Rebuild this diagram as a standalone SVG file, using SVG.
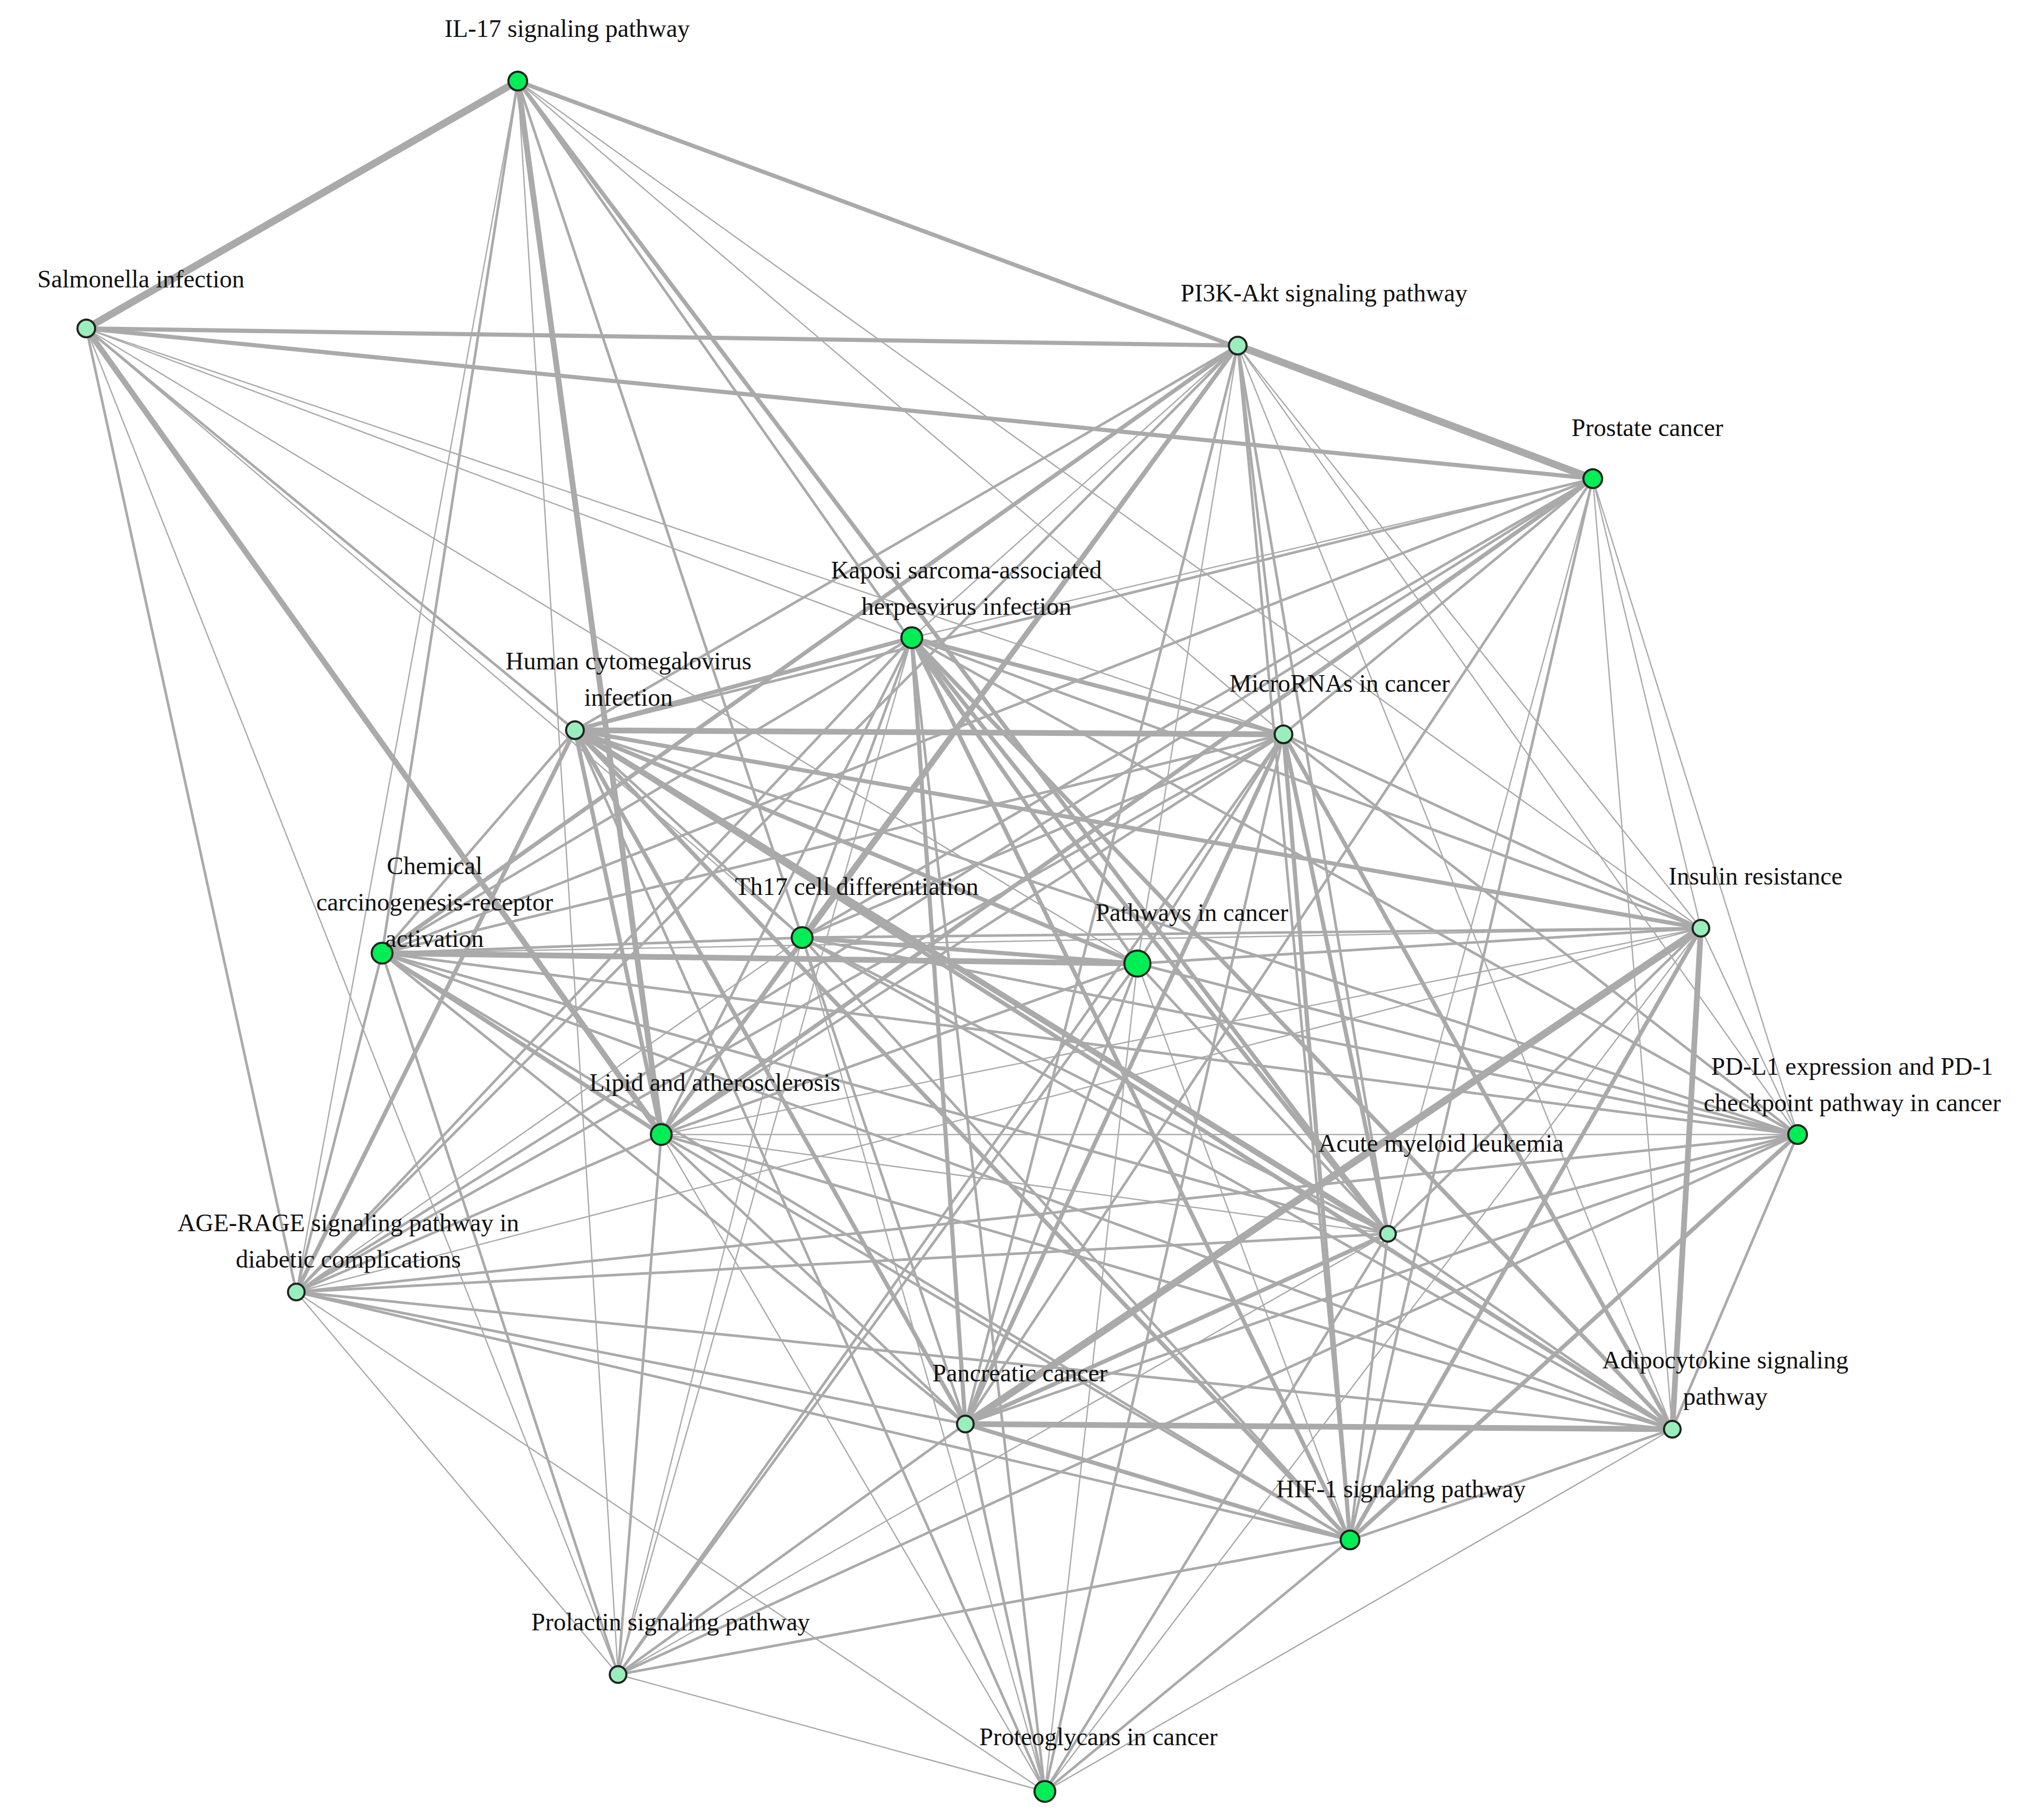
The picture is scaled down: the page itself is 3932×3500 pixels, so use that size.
<svg xmlns="http://www.w3.org/2000/svg" width="3932" height="3500" viewBox="0 0 3932 3500">
<style>
line{stroke:#aaaaaa;stroke-linecap:round}
.w1{stroke-width:2.5}.w2{stroke-width:5}.w3{stroke-width:8}.w4{stroke-width:11}.w5{stroke-width:14}
circle{stroke:#222;stroke-width:4}
.b{fill:#00ee55}.p{fill:#99eebb}
text{font-family:"Liberation Serif",serif;font-size:48px;fill:#111;text-anchor:middle}
</style>
<rect width="3932" height="3500" fill="#fff"/>
<g id="edges">
<line class="w5" x1="996" y1="156" x2="166" y2="632"/>
<line class="w3" x1="996" y1="156" x2="3064" y2="921"/>
<line class="w4" x1="996" y1="156" x2="1272" y2="2183"/>
<line class="w2" x1="996" y1="156" x2="735" y2="1834"/>
<line class="w1" x1="996" y1="156" x2="570" y2="2486"/>
<line class="w1" x1="996" y1="156" x2="1189" y2="3222"/>
<line class="w2" x1="996" y1="156" x2="1543" y2="1804"/>
<line class="w2" x1="996" y1="156" x2="2188" y2="1854"/>
<line class="w3" x1="996" y1="156" x2="2670" y2="2374"/>
<line class="w1" x1="996" y1="156" x2="2469" y2="1413"/>
<line class="w1" x1="996" y1="156" x2="3272" y2="1786"/>
<line class="w3" x1="166" y1="632" x2="2381" y2="665"/>
<line class="w3" x1="166" y1="632" x2="3064" y2="921"/>
<line class="w2" x1="166" y1="632" x2="1106" y2="1405"/>
<line class="w4" x1="166" y1="632" x2="1272" y2="2183"/>
<line class="w2" x1="166" y1="632" x2="570" y2="2486"/>
<line class="w1" x1="166" y1="632" x2="1189" y2="3222"/>
<line class="w1" x1="166" y1="632" x2="1543" y2="1804"/>
<line class="w1" x1="166" y1="632" x2="2188" y2="1854"/>
<line class="w1" x1="166" y1="632" x2="2469" y2="1413"/>
<line class="w1" x1="166" y1="632" x2="1754" y2="1227"/>
<line class="w5" x1="2381" y1="665" x2="3064" y2="921"/>
<line class="w1" x1="2381" y1="665" x2="1754" y2="1227"/>
<line class="w2" x1="2381" y1="665" x2="1106" y2="1405"/>
<line class="w3" x1="2381" y1="665" x2="735" y2="1834"/>
<line class="w3" x1="2381" y1="665" x2="1543" y2="1804"/>
<line class="w3" x1="2381" y1="665" x2="1272" y2="2183"/>
<line class="w2" x1="2381" y1="665" x2="2469" y2="1413"/>
<line class="w1" x1="2381" y1="665" x2="2188" y2="1854"/>
<line class="w2" x1="2381" y1="665" x2="2670" y2="2374"/>
<line class="w2" x1="2381" y1="665" x2="1857" y2="2740"/>
<line class="w1" x1="2381" y1="665" x2="3272" y2="1786"/>
<line class="w1" x1="2381" y1="665" x2="3217" y2="2750"/>
<line class="w2" x1="2381" y1="665" x2="2597" y2="2963"/>
<line class="w1" x1="2381" y1="665" x2="3458" y2="2183"/>
<line class="w2" x1="2381" y1="665" x2="570" y2="2486"/>
<line class="w1" x1="3064" y1="921" x2="1754" y2="1227"/>
<line class="w2" x1="3064" y1="921" x2="1106" y2="1405"/>
<line class="w2" x1="3064" y1="921" x2="1543" y2="1804"/>
<line class="w3" x1="3064" y1="921" x2="1272" y2="2183"/>
<line class="w2" x1="3064" y1="921" x2="2469" y2="1413"/>
<line class="w2" x1="3064" y1="921" x2="570" y2="2486"/>
<line class="w2" x1="3064" y1="921" x2="1857" y2="2740"/>
<line class="w1" x1="3064" y1="921" x2="2670" y2="2374"/>
<line class="w2" x1="3064" y1="921" x2="2597" y2="2963"/>
<line class="w1" x1="3064" y1="921" x2="3272" y2="1786"/>
<line class="w1" x1="3064" y1="921" x2="3458" y2="2183"/>
<line class="w1" x1="3064" y1="921" x2="3217" y2="2750"/>
<line class="w2" x1="3064" y1="921" x2="735" y2="1834"/>
<line class="w3" x1="1754" y1="1227" x2="1106" y2="1405"/>
<line class="w3" x1="1754" y1="1227" x2="2469" y2="1413"/>
<line class="w2" x1="1754" y1="1227" x2="735" y2="1834"/>
<line class="w2" x1="1754" y1="1227" x2="1543" y2="1804"/>
<line class="w2" x1="1754" y1="1227" x2="2188" y2="1854"/>
<line class="w2" x1="1754" y1="1227" x2="1272" y2="2183"/>
<line class="w2" x1="1754" y1="1227" x2="570" y2="2486"/>
<line class="w3" x1="1754" y1="1227" x2="1857" y2="2740"/>
<line class="w3" x1="1754" y1="1227" x2="2670" y2="2374"/>
<line class="w3" x1="1754" y1="1227" x2="2597" y2="2963"/>
<line class="w3" x1="1754" y1="1227" x2="3217" y2="2750"/>
<line class="w2" x1="1754" y1="1227" x2="3458" y2="2183"/>
<line class="w2" x1="1754" y1="1227" x2="3272" y2="1786"/>
<line class="w2" x1="1754" y1="1227" x2="2010" y2="3447"/>
<line class="w1" x1="1754" y1="1227" x2="1189" y2="3222"/>
<line class="w4" x1="1106" y1="1405" x2="2469" y2="1413"/>
<line class="w2" x1="1106" y1="1405" x2="735" y2="1834"/>
<line class="w2" x1="1106" y1="1405" x2="1543" y2="1804"/>
<line class="w3" x1="1106" y1="1405" x2="2188" y2="1854"/>
<line class="w3" x1="1106" y1="1405" x2="1272" y2="2183"/>
<line class="w3" x1="1106" y1="1405" x2="570" y2="2486"/>
<line class="w3" x1="1106" y1="1405" x2="1857" y2="2740"/>
<line class="w4" x1="1106" y1="1405" x2="2670" y2="2374"/>
<line class="w3" x1="1106" y1="1405" x2="3217" y2="2750"/>
<line class="w3" x1="1106" y1="1405" x2="2597" y2="2963"/>
<line class="w3" x1="1106" y1="1405" x2="3272" y2="1786"/>
<line class="w2" x1="1106" y1="1405" x2="3458" y2="2183"/>
<line class="w2" x1="1106" y1="1405" x2="2010" y2="3447"/>
<line class="w2" x1="2469" y1="1413" x2="735" y2="1834"/>
<line class="w2" x1="2469" y1="1413" x2="1543" y2="1804"/>
<line class="w2" x1="2469" y1="1413" x2="2188" y2="1854"/>
<line class="w2" x1="2469" y1="1413" x2="1272" y2="2183"/>
<line class="w2" x1="2469" y1="1413" x2="570" y2="2486"/>
<line class="w3" x1="2469" y1="1413" x2="1857" y2="2740"/>
<line class="w3" x1="2469" y1="1413" x2="2670" y2="2374"/>
<line class="w3" x1="2469" y1="1413" x2="2597" y2="2963"/>
<line class="w3" x1="2469" y1="1413" x2="3217" y2="2750"/>
<line class="w2" x1="2469" y1="1413" x2="3272" y2="1786"/>
<line class="w2" x1="2469" y1="1413" x2="3458" y2="2183"/>
<line class="w2" x1="2469" y1="1413" x2="2010" y2="3447"/>
<line class="w2" x1="2469" y1="1413" x2="1189" y2="3222"/>
<line class="w2" x1="735" y1="1834" x2="1543" y2="1804"/>
<line class="w4" x1="735" y1="1834" x2="2188" y2="1854"/>
<line class="w3" x1="735" y1="1834" x2="1272" y2="2183"/>
<line class="w2" x1="735" y1="1834" x2="570" y2="2486"/>
<line class="w2" x1="735" y1="1834" x2="2670" y2="2374"/>
<line class="w2" x1="735" y1="1834" x2="3458" y2="2183"/>
<line class="w2" x1="735" y1="1834" x2="1857" y2="2740"/>
<line class="w2" x1="735" y1="1834" x2="3217" y2="2750"/>
<line class="w1" x1="735" y1="1834" x2="3272" y2="1786"/>
<line class="w2" x1="735" y1="1834" x2="2597" y2="2963"/>
<line class="w2" x1="735" y1="1834" x2="1189" y2="3222"/>
<line class="w3" x1="1543" y1="1804" x2="2188" y2="1854"/>
<line class="w2" x1="1543" y1="1804" x2="3272" y2="1786"/>
<line class="w2" x1="1543" y1="1804" x2="3458" y2="2183"/>
<line class="w2" x1="1543" y1="1804" x2="2670" y2="2374"/>
<line class="w2" x1="1543" y1="1804" x2="1857" y2="2740"/>
<line class="w2" x1="1543" y1="1804" x2="3217" y2="2750"/>
<line class="w2" x1="1543" y1="1804" x2="2597" y2="2963"/>
<line class="w1" x1="1543" y1="1804" x2="2010" y2="3447"/>
<line class="w1" x1="1543" y1="1804" x2="570" y2="2486"/>
<line class="w1" x1="1543" y1="1804" x2="1272" y2="2183"/>
<line class="w1" x1="1543" y1="1804" x2="1189" y2="3222"/>
<line class="w2" x1="2188" y1="1854" x2="3272" y2="1786"/>
<line class="w2" x1="2188" y1="1854" x2="3458" y2="2183"/>
<line class="w2" x1="2188" y1="1854" x2="1272" y2="2183"/>
<line class="w2" x1="2188" y1="1854" x2="2670" y2="2374"/>
<line class="w2" x1="2188" y1="1854" x2="1189" y2="3222"/>
<line class="w1" x1="2188" y1="1854" x2="2010" y2="3447"/>
<line class="w1" x1="2188" y1="1854" x2="2597" y2="2963"/>
<line class="w2" x1="2188" y1="1854" x2="1857" y2="2740"/>
<line class="w5" x1="3272" y1="1786" x2="1857" y2="2740"/>
<line class="w3" x1="3272" y1="1786" x2="2597" y2="2963"/>
<line class="w4" x1="3272" y1="1786" x2="3217" y2="2750"/>
<line class="w1" x1="3272" y1="1786" x2="3458" y2="2183"/>
<line class="w2" x1="3272" y1="1786" x2="2670" y2="2374"/>
<line class="w1" x1="3272" y1="1786" x2="1272" y2="2183"/>
<line class="w1" x1="3272" y1="1786" x2="570" y2="2486"/>
<line class="w1" x1="3272" y1="1786" x2="2010" y2="3447"/>
<line class="w1" x1="3458" y1="2183" x2="1272" y2="2183"/>
<line class="w2" x1="3458" y1="2183" x2="2670" y2="2374"/>
<line class="w2" x1="3458" y1="2183" x2="1857" y2="2740"/>
<line class="w3" x1="3458" y1="2183" x2="2597" y2="2963"/>
<line class="w2" x1="3458" y1="2183" x2="3217" y2="2750"/>
<line class="w2" x1="3458" y1="2183" x2="570" y2="2486"/>
<line class="w2" x1="3458" y1="2183" x2="1189" y2="3222"/>
<line class="w2" x1="1272" y1="2183" x2="570" y2="2486"/>
<line class="w1" x1="1272" y1="2183" x2="2670" y2="2374"/>
<line class="w2" x1="1272" y1="2183" x2="1857" y2="2740"/>
<line class="w2" x1="1272" y1="2183" x2="3217" y2="2750"/>
<line class="w2" x1="1272" y1="2183" x2="1189" y2="3222"/>
<line class="w2" x1="1272" y1="2183" x2="2597" y2="2963"/>
<line class="w1" x1="1272" y1="2183" x2="2010" y2="3447"/>
<line class="w2" x1="2670" y1="2374" x2="570" y2="2486"/>
<line class="w3" x1="2670" y1="2374" x2="1857" y2="2740"/>
<line class="w2" x1="2670" y1="2374" x2="2597" y2="2963"/>
<line class="w2" x1="2670" y1="2374" x2="3217" y2="2750"/>
<line class="w2" x1="2670" y1="2374" x2="2010" y2="3447"/>
<line class="w1" x1="2670" y1="2374" x2="1189" y2="3222"/>
<line class="w2" x1="570" y1="2486" x2="1857" y2="2740"/>
<line class="w2" x1="570" y1="2486" x2="3217" y2="2750"/>
<line class="w2" x1="570" y1="2486" x2="2597" y2="2963"/>
<line class="w1" x1="570" y1="2486" x2="2010" y2="3447"/>
<line class="w1" x1="570" y1="2486" x2="1189" y2="3222"/>
<line class="w4" x1="1857" y1="2740" x2="3217" y2="2750"/>
<line class="w3" x1="1857" y1="2740" x2="2597" y2="2963"/>
<line class="w2" x1="1857" y1="2740" x2="2010" y2="3447"/>
<line class="w2" x1="1857" y1="2740" x2="1189" y2="3222"/>
<line class="w2" x1="3217" y1="2750" x2="2597" y2="2963"/>
<line class="w1" x1="3217" y1="2750" x2="2010" y2="3447"/>
<line class="w2" x1="2597" y1="2963" x2="2010" y2="3447"/>
<line class="w2" x1="2597" y1="2963" x2="1189" y2="3222"/>
<line class="w1" x1="1189" y1="3222" x2="2010" y2="3447"/>
</g>
<g id="n-il17"><circle class="b" cx="996" cy="156" r="18"/><text x="1091" y="71">IL-17 signaling pathway</text></g>
<g id="n-salm"><circle class="p" cx="166" cy="632" r="17"/><text x="271" y="553">Salmonella infection</text></g>
<g id="n-pi3k"><circle class="p" cx="2381" cy="665" r="17"/><text x="2547" y="580">PI3K-Akt signaling pathway</text></g>
<g id="n-prost"><circle class="b" cx="3064" cy="921" r="18"/><text x="3169" y="839">Prostate cancer</text></g>
<g id="n-kap"><circle class="b" cx="1754" cy="1227" r="20"/><text x="1859" y="1113">Kaposi sarcoma-associated</text><text x="1859" y="1183">herpesvirus infection</text></g>
<g id="n-hcmv"><circle class="p" cx="1106" cy="1405" r="17"/><text x="1209" y="1288">Human cytomegalovirus</text><text x="1209" y="1358">infection</text></g>
<g id="n-mir"><circle class="p" cx="2469" cy="1413" r="17"/><text x="2577" y="1331">MicroRNAs in cancer</text></g>
<g id="n-chem"><circle class="b" cx="735" cy="1834" r="20"/><text x="836" y="1682">Chemical</text><text x="836" y="1752">carcinogenesis-receptor</text><text x="836" y="1822">activation</text></g>
<g id="n-th17"><circle class="b" cx="1543" cy="1804" r="20"/><text x="1648" y="1722">Th17 cell differentiation</text></g>
<g id="n-path"><circle class="b" cx="2188" cy="1854" r="25"/><text x="2293" y="1772">Pathways in cancer</text></g>
<g id="n-ins"><circle class="p" cx="3272" cy="1786" r="16"/><text x="3377" y="1702">Insulin resistance</text></g>
<g id="n-pdl1"><circle class="b" cx="3458" cy="2183" r="18"/><text x="3563" y="2068">PD-L1 expression and PD-1</text><text x="3563" y="2138">checkpoint pathway in cancer</text></g>
<g id="n-lipid"><circle class="b" cx="1272" cy="2183" r="20"/><text x="1375" y="2099">Lipid and atherosclerosis</text></g>
<g id="n-aml"><circle class="p" cx="2670" cy="2374" r="15"/><text x="2772" y="2216">Acute myeloid leukemia</text></g>
<g id="n-age"><circle class="p" cx="570" cy="2486" r="16"/><text x="670" y="2369">AGE-RAGE signaling pathway in</text><text x="670" y="2439">diabetic complications</text></g>
<g id="n-panc"><circle class="p" cx="1857" cy="2740" r="16"/><text x="1962" y="2658">Pancreatic cancer</text></g>
<g id="n-adipo"><circle class="p" cx="3217" cy="2750" r="16"/><text x="3319" y="2633">Adipocytokine signaling</text><text x="3319" y="2703">pathway</text></g>
<g id="n-hif"><circle class="b" cx="2597" cy="2963" r="18"/><text x="2695" y="2881">HIF-1 signaling pathway</text></g>
<g id="n-prol"><circle class="p" cx="1189" cy="3222" r="16"/><text x="1290" y="3137">Prolactin signaling pathway</text></g>
<g id="n-prot"><circle class="b" cx="2010" cy="3447" r="20"/><text x="2113" y="3358">Proteoglycans in cancer</text></g>
</svg>
